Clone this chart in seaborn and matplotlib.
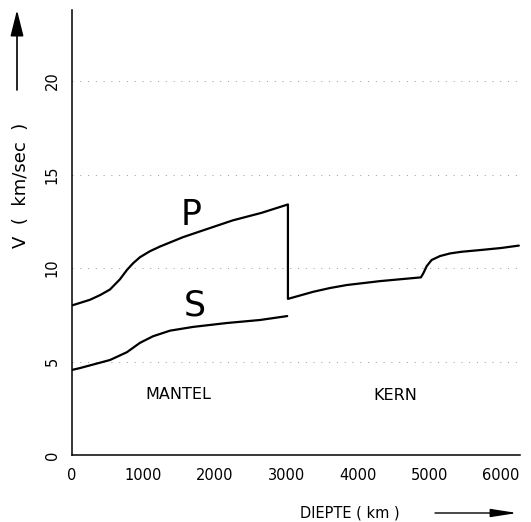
import numpy as np
import pandas as pd
import matplotlib
matplotlib.use("Agg")
import matplotlib.pyplot as plt
import seaborn as sns

# depth (km) and velocity (km/sec)
p_mantle_depth = [0, 250, 392, 531, 671, 769, 853, 951, 1091, 1231, 1552, 1900, 2250, 2650, 3020]
p_mantle_v = [8.0, 8.3, 8.55, 8.85, 9.4, 9.9, 10.25, 10.58, 10.9, 11.15, 11.65, 12.1, 12.55, 12.95, 13.4]
p_core_depth = [3020, 3375, 3608, 3842, 4308, 4880, 4914, 4961, 5030, 5147, 5287, 5450, 5706, 6000, 6250]
p_core_v = [8.35, 8.73, 8.93, 9.09, 9.3, 9.5, 9.72, 10.1, 10.43, 10.64, 10.78, 10.87, 10.96, 11.07, 11.2]
s_depth = [0, 112, 531, 769, 951, 1133, 1371, 1692, 2168, 2629, 3010]
s_v = [4.55, 4.65, 5.08, 5.5, 6.0, 6.35, 6.65, 6.85, 7.06, 7.22, 7.43]

x_ticks = [0, 1000, 2000, 3000, 4000, 5000, 6000]
y_ticks = [0, 5, 10, 15, 20]

p_df = pd.DataFrame({"diepte": p_mantle_depth + p_core_depth, "v": p_mantle_v + p_core_v})
s_df = pd.DataFrame({"diepte": s_depth, "v": s_v})

sns.set_style("white")
plt.rcParams['font.family'] = ['DejaVu Sans']
plt.rcParams['text.color'] = 'black'
plt.rcParams['xtick.color'] = 'black'
plt.rcParams['ytick.color'] = 'black'

W, H = 531, 522
fig = plt.figure(figsize=(W / 100, H / 100), dpi=100)
ax = fig.add_axes([72 / W, (H - 455) / H, (519.5 - 72) / W, (455 - 10) / H])

sns.lineplot(data=p_df, x="diepte", y="v", sort=False, estimator=None, color="black", lw=1.6, ax=ax)
sns.lineplot(data=s_df, x="diepte", y="v", sort=False, estimator=None, color="black", lw=1.6, ax=ax)

ax.set_xlim(0, 6259)
ax.set_ylim(0, 23.8)
ax.set_xticks(x_ticks)
ax.set_yticks(y_ticks)
ax.set_xticklabels([str(t) for t in x_ticks], fontsize=10.5)
ax.set_yticklabels([str(t) for t in y_ticks], fontsize=10.5, rotation=90, va="center")
ax.tick_params(axis="both", length=0)
ax.tick_params(axis="x", pad=9)
ax.tick_params(axis="y", pad=9)
ax.set_xlabel("")
ax.set_ylabel("")

ax.yaxis.grid(True, linestyle=(0, (1, 7)), color="0.6", lw=0.7)
ax.xaxis.grid(False)
for side in ["top", "right"]:
    ax.spines[side].set_visible(False)
for side in ["left", "bottom"]:
    ax.spines[side].set_color("black")
    ax.spines[side].set_linewidth(1.1)

ax.text(1664, 12.83, "P", fontsize=25, ha="center", va="center")
ax.text(1720, 8.02, "S", fontsize=25, ha="center", va="center")
ax.text(1483, 3.26, "MANTEL", fontsize=11.5, ha="center", va="center")
ax.text(4517, 3.2, "KERN", fontsize=11.5, ha="center", va="center")

def fpos(x, y):
    return (x / W, 1 - y / H)

fig.text(*fpos(21, 185), "V  (  km/sec  )", rotation=90, fontsize=13, ha="center", va="center")
fig.text(*fpos(350, 513), "DIEPTE ( km )", fontsize=10.5, ha="center", va="center")
ax.annotate("", xy=fpos(17, 10), xytext=fpos(17, 90), xycoords="figure fraction",
            textcoords="figure fraction",
            arrowprops=dict(arrowstyle="-|>,head_length=1.6,head_width=0.4", mutation_scale=10,
                            color="black", lw=1.2, shrinkA=0, shrinkB=0))
ax.annotate("", xy=fpos(517, 513), xytext=fpos(435, 513), xycoords="figure fraction",
            textcoords="figure fraction",
            arrowprops=dict(arrowstyle="-|>,head_length=1.6,head_width=0.25", mutation_scale=10,
                            color="black", lw=1.0, shrinkA=0, shrinkB=0))

fig.savefig("out.png", dpi=100)
